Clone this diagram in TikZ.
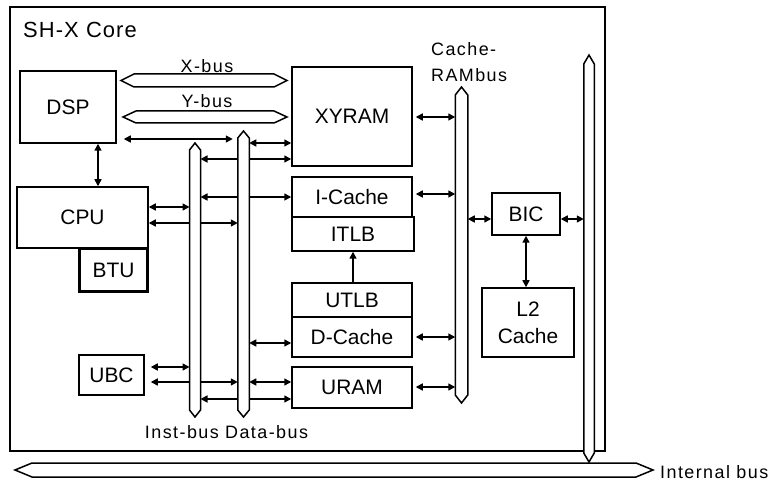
\documentclass[tikz,border=0pt]{standalone}
\usepackage{fontspec}
\setmainfont{Liberation Sans}
\newfontfamily\busfont[LetterSpace=8]{Liberation Sans}
\newfontfamily\titlefont[LetterSpace=5]{Liberation Sans}
\usetikzlibrary{arrows.meta}

\newcommand{\vbus}[2]{%
    \draw[busline] (#1.north west) -- ([yshift=#2]#1.north) -- (#1.north east)
        -- (#1.south east) -- ([yshift=-#2]#1.south) -- (#1.south west) -- cycle;}
\newcommand{\hbus}[2]{%
    \draw[busline] (#1.north west) -- (#1.north east) -- ([xshift=#2]#1.east)
        -- (#1.south east) -- (#1.south west) -- ([xshift=-#2]#1.west) -- cycle;}

\begin{document}
\begin{tikzpicture}[x=1bp, y=-1bp]
    \tikzset{
        block/.style={draw, line width=1.5bp, inner sep=0pt, align=center,
            font=\fontsize{21}{27}\selectfont},
        shaft/.style={inner sep=0pt, outer sep=0pt},
        busline/.style={draw, fill=white, line width=1.5bp, line join=miter},
        link/.style={line width=1.5bp,
            {Triangle[length=7bp,width=7bp]}-{Triangle[length=7bp,width=7bp]}},
        buslabel/.style={inner sep=0pt, font=\busfont\fontsize{18}{27}\selectfont}
    }
    \useasboundingbox (0,0) rectangle (778,483);
    \node[draw, line width=1.5bp, inner sep=0pt,
        minimum width=595bp, minimum height=444bp] (core) at (307.5,229) {};
    \node[anchor=base west, inner sep=0pt,
        font=\titlefont\fontsize{22}{26}\selectfont] (title) at (23,38) {SH-X Core};

    \node[block, minimum width=96bp, minimum height=72bp] (dsp) at (68,107) {DSP};
    \node[block, minimum width=131bp, minimum height=61bp] (cpu) at (82.5,217.5) {CPU};
    \node[block, line width=3.2bp, minimum width=68bp, minimum height=43bp] (btu) at (113.5,270) {BTU};
    \node[block, minimum width=65bp, minimum height=40bp] (ubc) at (111.5,375) {UBC};
    \node[block, minimum width=120bp, minimum height=99bp] (xyram) at (352,116.5) {XYRAM};
    \node[block, minimum width=120bp, minimum height=40bp] (icache) at (352,197) {I-Cache};
    \node[block, minimum width=122bp, minimum height=34bp] (itlb) at (353,234) {ITLB};
    \node[block, minimum width=120bp, minimum height=34bp] (utlb) at (352,300) {UTLB};
    \node[block, minimum width=120bp, minimum height=40bp] (dcache) at (352,337) {D-Cache};
    \node[block, minimum width=120bp, minimum height=41bp] (uram) at (352,387.5) {URAM};
    \node[block, minimum width=68bp, minimum height=42bp] (bic) at (526,214) {BIC};
    \node[block, minimum width=92bp, minimum height=69bp] (ltwo) at (528,322.5) {L2\\Cache};

    \node[shaft, minimum width=11bp, minimum height=260bp] (ibus) at (195,280) {};
    \node[shaft, minimum width=11.5bp, minimum height=272bp] (dbus) at (243.5,274) {};
    \node[shaft, minimum width=12.5bp, minimum height=300bp] (crbus) at (461.5,245) {};
    \node[shaft, minimum width=10.5bp, minimum height=389bp] (rbus) at (589,258.5) {};
    \node[shaft, minimum width=140bp, minimum height=13bp] (xbus) at (204,80.5) {};
    \node[shaft, minimum width=138bp, minimum height=12bp] (ybus) at (205,117) {};
    \node[shaft, minimum width=604bp, minimum height=14bp] (inbus) at (334,470) {};

    \draw[link, shorten <=7bp, shorten >=5bp] (dsp.east |- 0,139) -- (dbus.west |- 0,139);
    \draw[link] (dbus.east |- 0,143) -- (xyram.west |- 0,143);
    \draw[link] (ibus.east |- 0,159) -- (xyram.west |- 0,159);
    \draw[link] (ibus.east |- 0,197) -- (icache.west |- 0,197);
    \draw[link] (cpu.east |- 0,207) -- (ibus.west |- 0,207);
    \draw[link] (cpu.east |- 0,223) -- (dbus.west |- 0,223);
    \draw[link] (dbus.east |- 0,343) -- (dcache.west |- 0,343);
    \draw[link, shorten <=6bp] (ubc.east |- 0,367) -- (ibus.west |- 0,367);
    \draw[link, shorten <=6bp] (ubc.east |- 0,382) -- (dbus.west |- 0,382);
    \draw[link] (dbus.east |- 0,382) -- (uram.west |- 0,382);
    \draw[link] (ibus.east |- 0,399) -- (uram.west |- 0,399);
    \draw[link] (dsp.south -| 98,0) -- (cpu.north -| 98,0);
    \draw[link, -{Triangle[length=7bp,width=7bp]}] (utlb.north -| itlb.south) -- (itlb.south);
    \draw[link, shorten <=3bp] (xyram.east |- 0,117) -- (crbus.west |- 0,117);
    \draw[link, shorten <=3bp] (icache.east |- 0,194) -- (crbus.west |- 0,194);
    \draw[link, shorten <=3bp] (dcache.east |- 0,337) -- (crbus.west |- 0,337);
    \draw[link, shorten <=3bp] (uram.east |- 0,387) -- (crbus.west |- 0,387);
    \draw[link] (crbus.east |- 0,219) -- (bic.west |- 0,219);
    \draw[link] (bic.east |- 0,219) -- (rbus.west |- 0,219);
    \draw[link] (bic.south) -- (bic.south |- ltwo.north);

    \hbus{xbus}{13bp}
    \hbus{ybus}{13bp}
    \vbus{ibus}{7bp}
    \vbus{dbus}{7bp}
    \vbus{crbus}{8bp}
    \vbus{rbus}{9bp}
    \hbus{inbus}{17bp}

    \node[buslabel, anchor=base] (xlabel) at (207,73) {X-bus};
    \node[buslabel, anchor=base] (ylabel) at (207,108) {Y-bus};
    \node[buslabel, anchor=base west, align=left] (crlabel) at (431,82) {Cache-\\RAMbus};
    \node[buslabel, anchor=base] (idlabel) at (226.5,438) {Inst-bus Data-bus};
    \node[buslabel, anchor=base west] (inlabel) at (660,478) {Internal bus};
\end{tikzpicture}
\end{document}
